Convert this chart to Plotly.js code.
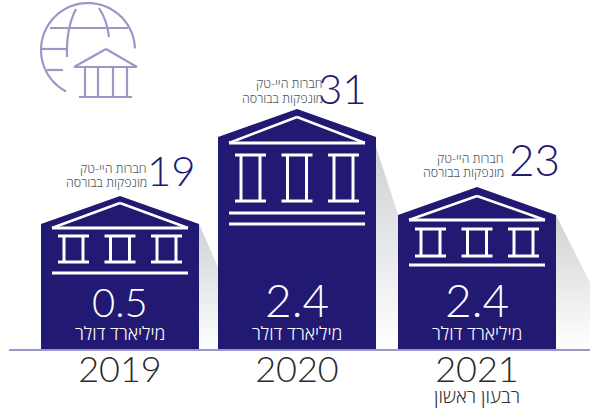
<!DOCTYPE html>
<html><head><meta charset="utf-8">
<script src="https://cdn.plot.ly/plotly-3.0.1.min.js"></script>
<style>html,body{margin:0;padding:0;background:#fff}</style></head>
<body><div id="c" style="width:590px;height:409px"></div>
<script>
// Data
const years = ['2019','2020','2021'];
const companies = [19,31,23];
const raised = ['0.5','2.4','2.4'];
const buildingHeights = [125,212,134];
const companyLabel = ['חברות היי-טק','מונפקות בבורסה'];
const unitLabel = 'מיליארד דולר';
const yearNote = 'רבעון ראשון';

// Layout constants (pixel-scale axes; y = height above baseline)
const BASE = 349;
const py = p => BASE - p;
const cx = [120,297,477];
const halfW = 79, rise = 28;
const navy = '#221a72', lilac = '#9b98c8', grey = '#4d5a66';
const shadowReach = [55,66,67], shadowDrop = [0,10,0];
const numFont = {family:'Lato, "Open Sans", sans-serif', weight:300};
const hebFont = {family:'"Open Sans", "Liberation Sans", sans-serif', weight:300};

const traces = [];
const shapes = [];
const annos = [];
const white = w => ({color:'#fff', width:w});

function seg(x0,y0,x1,y1,line){shapes.push({type:'line',xref:'x',yref:'y',x0,y0,x1,y1,line,layer:'above'});}

// detail pixel rows per building
const roofApex=[203,117,196], roofBase=[228,143,220], colTop=[236,155,229], colBot=[262,201,256];
const floorLines=[[273],[213,224],[265]];
const colOff=[-46.5,0,46.5];

years.forEach((yr,i)=>{
  const c=cx[i], h=buildingHeights[i];
  // shadow
  traces.push({type:'scatter',mode:'lines',x:[c+halfW,c+halfW+shadowReach[i],c+halfW],y:[h-shadowDrop[i],0,0],
    fill:'toself',line:{width:0,color:'rgba(0,0,0,0)'},hoverinfo:'skip',
    fillcolor:'#ddd',
    fillgradient:{type:'vertical',colorscale:[[0,'#ffffff'],[1,'#cfd1d3']]}});
  // building
  traces.push({type:'scatter',mode:'lines',name:yr,
    x:[c-halfW,c-halfW,c,c+halfW,c+halfW,c-halfW],
    y:[0,h,h+rise,h,0,0],
    fill:'toself',fillcolor:navy,line:{width:0,color:navy},hoverinfo:'skip'});
  // roof
  const L=c-68,R=c+68;
  seg(L,py(roofBase[i]),c,py(roofApex[i]),white(2.6));
  seg(c,py(roofApex[i]),R,py(roofBase[i]),white(2.6));
  seg(L,py(roofBase[i]),R,py(roofBase[i]),white(3));
  // columns
  colOff.forEach(o=>{
    const m=c+o;
    seg(m-15.5,py(colTop[i]),m+15.5,py(colTop[i]),white(3));
    seg(m-15.5,py(colBot[i]),m+15.5,py(colBot[i]),white(3));
    seg(m-9.5,py(colTop[i]),m-9.5,py(colBot[i]),white(3));
    seg(m+9.5,py(colTop[i]),m+9.5,py(colBot[i]),white(3));
  });
  floorLines[i].forEach(f=>seg(L,py(f),R,py(f),white(3)));
});

// text placement
const numRight=[198,369,562], numY=[170,88,159], numSize=[42,42,44];
const subRight=[149,325,506], subY1=[168,83,158], subY2=[182,98,172];
const valY=[302,299,299], valSize=[40,46,46], unitY=[333,333,333];
function txt(t,x,p,size,color,xa,font){annos.push({text:t,x,y:py(p),xref:'x',yref:'y',xanchor:xa,yanchor:'middle',showarrow:false,
  font:Object.assign({size,color},font)});}
years.forEach((yr,i)=>{
  txt(String(companies[i]),numRight[i],numY[i],numSize[i],navy,'right',numFont);
  txt(companyLabel[0],subRight[i],subY1[i],12.5,grey,'right',hebFont);
  txt(companyLabel[1],subRight[i],subY2[i],12.5,grey,'right',hebFont);
  txt(raised[i],cx[i],valY[i],valSize[i],'#fff','center',numFont);
  txt(unitLabel,cx[i],unitY[i],18,'#fff','center',hebFont);
});
annos.push({text:yearNote,x:477,y:py(396)/349,xref:'x',yref:'paper',xanchor:'center',yanchor:'middle',showarrow:false,
  borderpad:0,font:Object.assign({size:19,color:'#333'},hebFont)});

// icon
function poly(pts){return 'M'+pts.map(p=>p[0]+','+py(p[1])).join('L');}
const ic={color:lilac,width:2.2};
function path(d){shapes.push({type:'path',xref:'x',yref:'y',path:d,line:ic});}
const arc=[];for(let a=118;a<=360;a+=6){const r=a*Math.PI/180;arc.push([88+47*Math.cos(r),50+47*Math.sin(r)]);}
path(poly(arc));
path('M76,'+py(9)+'Q66,'+py(28)+' 67,'+py(57));
path('M99,'+py(8)+'Q107,'+py(20)+' 109,'+py(37));
[[50,28,128,28],[42,49,67,49],[47,70,63,70],[74,67,137,67],[79,97,132,97],[85,67,85,97],[98,67,98,97],[113,67,113,97],[127,67,127,97],[74,67,106,49],[106,49,137,67]]
 .forEach(s=>path('M'+s[0]+','+py(s[1])+'L'+s[2]+','+py(s[3])));

Plotly.newPlot('c',traces,{
  width:590,height:409,showlegend:false,paper_bgcolor:'#fff',plot_bgcolor:'rgba(0,0,0,0)',
  margin:{l:9,r:0,t:0,b:60,pad:0},
  xaxis:{range:[9,590],tickmode:'array',tickvals:cx,ticktext:years,showgrid:false,zeroline:false,
    showline:true,linecolor:lilac,linewidth:1.5,ticks:'',ticklabelstandoff:-12,
    tickfont:{family:numFont.family,weight:300,size:36,color:'#2a2a2a'},tickangle:0,fixedrange:true},
  yaxis:{range:[0,349],visible:false,fixedrange:true},
  shapes,annotations:annos
},{displayModeBar:false,staticPlot:true});
</script></body></html>
